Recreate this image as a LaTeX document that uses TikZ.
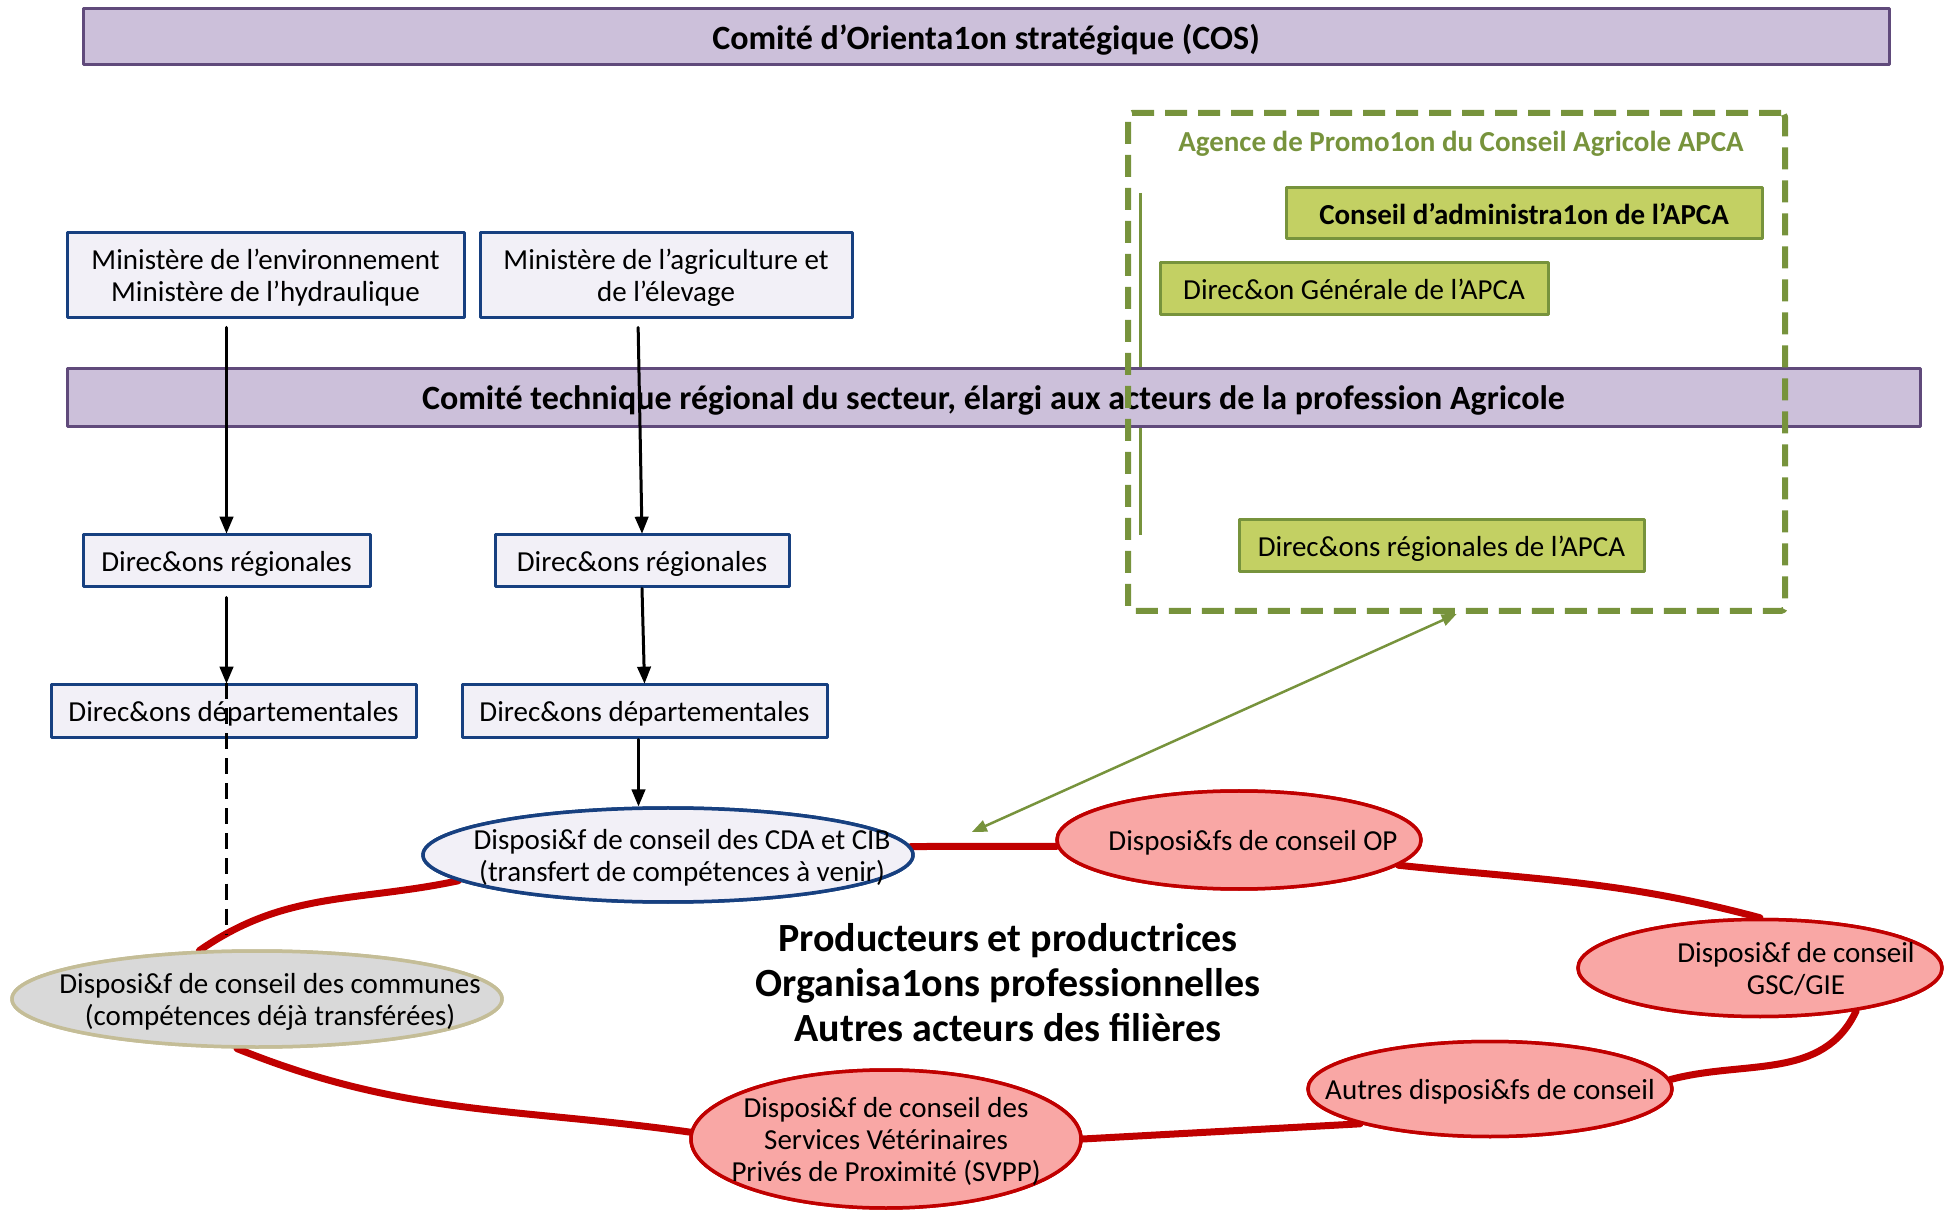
\documentclass[tikz,border=0pt]{standalone}
\usepackage{fontspec}
\setmainfont{Carlito}
\usetikzlibrary{arrows,shapes.geometric}
\definecolor{lilas}{rgb}{0.8,0.753,0.855}
\definecolor{prune}{rgb}{0.376,0.29,0.482}
\definecolor{pervenche}{rgb}{0.949,0.941,0.969}
\definecolor{marine}{rgb}{0.09,0.25,0.5}
\definecolor{vertolive}{rgb}{0.467,0.576,0.235}
\definecolor{vertclair}{rgb}{0.765,0.816,0.39}
\definecolor{rouge}{rgb}{0.753,0,0}
\definecolor{rose}{rgb}{0.976,0.655,0.647}
\definecolor{gris}{rgb}{0.851,0.851,0.851}
\definecolor{beige}{rgb}{0.769,0.741,0.592}

\begin{document}
\begin{tikzpicture}[line cap=round,line join=round,>=triangle 45,x=1pt,y=1pt,
    every node/.style={font=\fontsize{29}{32}\selectfont,text depth=0pt},
    bande/.style={draw=prune,line width=3pt,fill=lilas,inner sep=0pt,font=\bfseries\fontsize{34}{38}\selectfont},
    boite/.style={draw=marine,line width=3pt,fill=pervenche,align=center,inner sep=0pt},
    vboite/.style={draw=vertolive,line width=3pt,fill=vertclair,inner sep=0pt},
    ell/.style={ellipse,line width=3.5pt,inner sep=0pt},
    rell/.style={ell,draw=rouge,fill=rose},
    fl/.style={->,line width=3pt},
    anneau/.style={draw=rouge,line width=7pt}]
      \useasboundingbox (0,0) rectangle (1954,1211);
      % haut
      \node[bande,minimum width=1806pt,minimum height=56pt] (cos) at (986,1174) {Comité d’Orienta1on stratégique (COS)};
      \node[boite,minimum width=397pt,minimum height=85pt] (menv) at (265.5,935.5) {Ministère de l’environnement\\Ministère de l’hydraulique};
      \node[boite,minimum width=372pt,minimum height=85pt] (magr) at (666,935.5) {Ministère de l’agriculture et\\de l’élevage};
      \draw[color=vertolive,line width=3pt,line cap=butt] (1140,1018) -- (1140,676);
      \node[bande,minimum width=1853pt,minimum height=58pt] (ctr) at (993.5,813) {Comité technique régional du secteur, élargi aux acteurs de la profession Agricole};
      % directions
      \node[boite,minimum width=287pt,minimum height=52pt] (drl) at (226.5,650) {Direc\&ons régionales};
      \node[boite,minimum width=294pt,minimum height=52pt] (drm) at (642,650) {Direc\&ons régionales};
      \node[boite,minimum width=365pt,minimum height=53pt] (ddl) at (233.5,499.5) {Direc\&ons départementales};
      \node[boite,minimum width=365pt,minimum height=53pt] (ddm) at (644.5,499.5) {Direc\&ons départementales};
      % APCA
      \node[draw=vertolive,line width=6pt,line cap=butt,dash pattern=on 22pt off 11pt,rounded corners=4pt,minimum width=657pt,minimum height=498pt] (apca) at (1456.5,849) {};
      \node[text=vertolive,font=\bfseries\fontsize{29}{32}\selectfont] (apcat) at (1461,1070) {Agence de Promo1on du Conseil Agricole APCA};
      \node[vboite,minimum width=476pt,minimum height=51pt,font=\bfseries\fontsize{29}{32}\selectfont] (ca) at (1524,997.5) {Conseil d’administra1on de l’APCA};
      \node[vboite,minimum width=388pt,minimum height=52pt] (dg) at (1354,922) {Direc\&on Générale de l’APCA};
      \node[vboite,minimum width=405pt,minimum height=52pt] (dra) at (1441.5,665) {Direc\&ons régionales de l’APCA};
      % anneau des dispositifs
      \node[ell,draw=marine,fill=pervenche,minimum width=490pt,minimum height=94pt] (cda) at (668,356) {};
      \node[rell,minimum width=364pt,minimum height=98pt] (op) at (1239,371) {};
      \node[rell,minimum width=364pt,minimum height=97pt] (gsc) at (1760,243) {};
      \node[rell,minimum width=364pt,minimum height=95pt] (autres) at (1490,122) {};
      \node[rell,minimum width=390pt,minimum height=138pt] (svpp) at (886,72) {};
      \node[ell,draw=beige,fill=gris,minimum width=490pt,minimum height=96pt] (com) at (257,212) {};
      \draw[anneau] (cda.2) -- (op.182);
      \draw[anneau] (op.-9) to[out=-6,in=165] (gsc.north);
      \draw[anneau] (gsc.-24) to[out=-115,in=15] (autres.3);
      \draw[anneau] (autres.195) -- (svpp.0);
      \draw[anneau] (com.-112) to[out=-22,in=172] (svpp.178);
      \draw[anneau] (com.140) to[out=35,in=192] (cda.187);
      % on redessine les ellipses par-dessus l'anneau
      \node[ell,draw=marine,fill=pervenche,minimum width=490pt,minimum height=94pt] at (cda) {};
      \node[rell,minimum width=364pt,minimum height=98pt] at (op) {};
      \node[rell,minimum width=364pt,minimum height=97pt] at (gsc) {};
      \node[rell,minimum width=364pt,minimum height=95pt] at (autres) {};
      \node[rell,minimum width=390pt,minimum height=138pt] at (svpp) {};
      \node[ell,draw=beige,fill=gris,minimum width=490pt,minimum height=96pt] at (com) {};
      \node[align=center] (tcda) at ([xshift=14pt]cda.center) {Disposi\&f de conseil des CDA et CIB\\(transfert de compétences à venir)};
      \node (top) at ([xshift=14pt]op.center) {Disposi\&fs de conseil OP};
      \node[align=center] (tgsc) at ([xshift=36pt]gsc.center) {Disposi\&f de conseil\\GSC/GIE};
      \node (tautres) at (autres.center) {Autres disposi\&fs de conseil};
      \node[align=center] (tsvpp) at (svpp.center) {Disposi\&f de conseil des\\Services Vétérinaires\\Privés de Proximité (SVPP)};
      \node[align=center] (tcom) at ([xshift=13pt]com.center) {Disposi\&f de conseil des communes\\(compétences déjà transférées)};
      \node[align=center,font=\bfseries\fontsize{40}{45}\selectfont] (acteurs) at (1008,229) {Producteurs et productrices\\Organisa1ons professionnelles\\Autres acteurs des filières};
      % fleches
      \draw[fl,shorten <=8pt] (menv.south -| drl.north) -- (drl.north);
      \draw[fl,shorten <=8pt] ([xshift=-28pt]magr.south) -- (drm.north);
      \draw[fl,shorten <=9pt] (drl.south) -- (drl.south |- ddl.north);
      \draw[fl] (drm.south) -- (ddm.north);
      \draw[fl] ([xshift=-6pt]ddm.south) -- ([xshift=-6pt]ddm.south |- cda.north);
      \draw[line width=3pt,line cap=butt,dash pattern=on 16pt off 9pt,shorten >=14pt] (drl.south |- ddl.north) -- (drl.south |- com.north);
      \coordinate (jonction) at (972,379);
      \draw[<->,color=vertolive,line width=2.5pt] (apca.south) -- (jonction);
\end{tikzpicture}
\end{document}
